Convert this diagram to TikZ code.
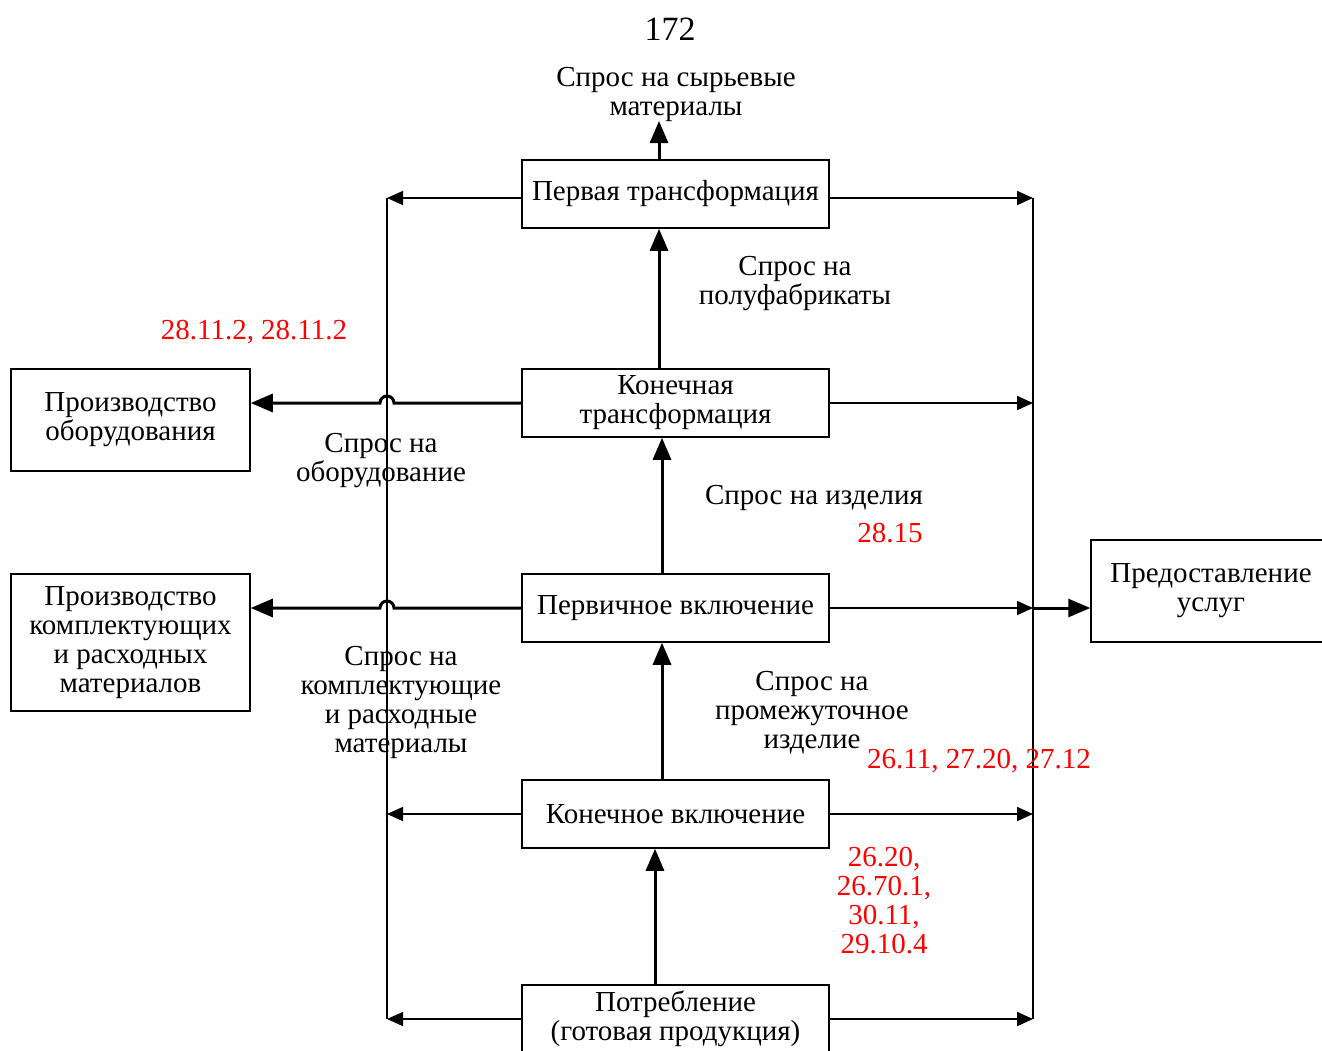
\documentclass[tikz,border=0pt]{standalone}
\usepackage{fontspec}
\setmainfont{Liberation Serif}
\usetikzlibrary{arrows.meta,calc}
\newcommand\dfont{\fontsize{29}{29}\selectfont}
\begin{document}
\begin{tikzpicture}[x=1pt,y=-1pt,
  box/.style={draw,line width=1.5pt,inner sep=0pt,align=center,font=\dfont},
  lbl/.style={inner sep=0pt,align=center,font=\dfont},
  rlbl/.style={lbl,text=red},
  thinarr/.style={line width=1.6pt,-{Triangle[length=16pt,width=14pt]}},
  thickarr/.style={line width=3pt,-{Triangle[length=22pt,width=18pt]}},
  bus/.style={line width=1.6pt}
]
\useasboundingbox (0,0) rectangle (1322,1050);

% page number
\node[lbl,font=\fontsize{34}{36}\selectfont] (page) at (670,29) {172};

% central chain of stages
\node[box,minimum width=307pt,minimum height=68pt] (pt) at (675.5,194) {\raisebox{-2pt}{Первая трансформация}};
\node[box,minimum width=307pt,minimum height=68pt] (kt) at (675.5,403) {\raisebox{-2pt}{Конечная}\\\raisebox{-2pt}{трансформация}};
\node[box,minimum width=307pt,minimum height=68pt] (pv) at (675.5,608) {\raisebox{-2pt}{Первичное включение}};
\node[box,minimum width=307pt,minimum height=68pt] (kv) at (675.5,814) {Конечное включение};
\node[box,minimum width=307pt,minimum height=68pt] (potr) at (675.5,1019) {\raisebox{-2pt}{Потребление}\\\raisebox{-2pt}{(готовая продукция)}};

% side blocks
\node[box,minimum width=239pt,minimum height=102pt] (po) at (130.5,420) {\raisebox{-2pt}{Производство}\\\raisebox{-2pt}{оборудования}};
\node[box,minimum width=239pt,minimum height=137pt] (pk) at (130.5,642.5) {Производство\\комплектующих\\и расходных\\материалов};
\node[box,minimum width=240pt,minimum height=102pt] (pu) at (1211,591) {\raisebox{-2pt}{Предоставление}\\\raisebox{-2pt}{услуг}};

% vertical buses
\coordinate (Lt) at (387,198);
\coordinate (Lb) at (387,1019);
\coordinate (Rt) at (1033,198);
\coordinate (Rb) at (1033,1019);
\draw[bus] (Lt) -- (Lb);
\draw[bus] (Rt) -- (Rb);

% connections to the buses
\draw[thinarr] (pt.west |- Lt) -- (Lt);
\draw[thinarr] (pt.east |- Rt) -- (Rt);
\draw[thinarr] (kt.east) -- (kt.east -| Rt);
\draw[thinarr] (pv.east) -- (pv.east -| Rt);
\draw[thinarr] (kv.west) -- (kv.west -| Lt);
\draw[thinarr] (kv.east) -- (kv.east -| Rt);
\draw[thinarr] (potr.west) -- (potr.west -| Lt);
\draw[thinarr] (potr.east) -- (potr.east -| Rt);
\draw[thickarr] (pv.east -| Rt) -- (pv.east -| pu.west);

% demand for equipment and components, hopping over the left bus
\draw[thickarr] (kt.west) -- ($(kt.west -| Lt)+(7pt,0)$)
  arc[start angle=0,end angle=180,radius=7pt] -- (kt.west -| po.east);
\draw[thickarr] (pv.west) -- ($(pv.west -| Lt)+(7pt,0)$)
  arc[start angle=0,end angle=180,radius=7pt] -- (pv.west -| pk.east);

% upward demand flows
\coordinate (srtip) at (659,121);
\draw[thickarr] ([xshift=-16.5pt]pt.north) -- (srtip);
\draw[thickarr] ([xshift=-16.5pt]kt.north) -- ([xshift=-16.5pt]pt.south);
\draw[thickarr] ([xshift=-13.5pt]pv.north) -- ([xshift=-13.5pt]kt.south);
\draw[thickarr] ([xshift=-13.5pt]kv.north) -- ([xshift=-13.5pt]pv.south);
\draw[thickarr] ([xshift=-20.5pt]potr.north) -- ([xshift=-20.5pt]kv.south);

% labels
\node[lbl] (sr) at (676,94.5) {Спрос на сырьевые\\материалы};
\node[lbl] (spf) at (795,284) {Спрос на\\полуфабрикаты};
\node[lbl] (sob) at (381,461) {Спрос на\\оборудование};
\node[lbl] (siz) at (814,497.5) {Спрос на изделия};
\node[lbl] (skm) at (401,702) {Спрос на\\комплектующие\\и расходные\\материалы};
\node[lbl] (spr) at (812,712.5) {Спрос на\\промежуточное\\изделие};

% classification codes
\node[rlbl] (c1) at (254,332) {28.11.2, 28.11.2};
\node[rlbl] (c2) at (890,533) {28.15};
\node[rlbl] (c3) at (979,761) {26.11, 27.20, 27.12};
\node[rlbl] (c4) at (884,900.5) {26.20,\\26.70.1,\\30.11,\\29.10.4};
\end{tikzpicture}
\end{document}
